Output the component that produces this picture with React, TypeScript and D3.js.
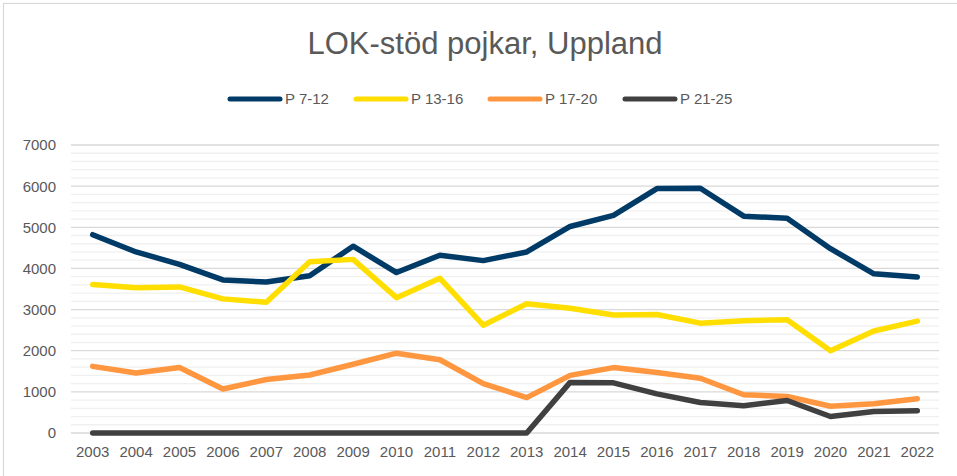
import { useEffect, useRef } from "react"
import * as d3 from "d3"

const years = [
    "2003", "2004", "2005", "2006", "2007", "2008", "2009", "2010", "2011", "2012",
    "2013", "2014", "2015", "2016", "2017", "2018", "2019", "2020", "2021", "2022",
]

const p7_12 = [4820, 4400, 4100, 3720, 3670, 3820, 4540, 3900, 4320, 4190, 4400, 5020, 5290, 5940, 5950, 5270, 5220, 4480, 3870, 3790]
const p13_16 = [3610, 3530, 3550, 3260, 3180, 4160, 4220, 3290, 3760, 2620, 3140, 3030, 2870, 2880, 2670, 2730, 2750, 2000, 2480, 2720]
const p17_20 = [1620, 1460, 1590, 1070, 1300, 1410, 1670, 1940, 1780, 1200, 860, 1400, 1590, 1470, 1330, 930, 890, 650, 710, 830]
const p21_25 = [0, 0, 0, 0, 0, 0, 0, 0, 0, 0, 0, 1230, 1220, 950, 740, 660, 790, 400, 520, 540]

const seriesNames = ["P 7-12", "P 13-16", "P 17-20", "P 21-25"]
const seriesValues = [p7_12, p13_16, p17_20, p21_25]
const seriesColors = ["#003a66", "#ffde00", "#ff9640", "#404040"]

const yMajorTicks = [0, 1000, 2000, 3000, 4000, 5000, 6000, 7000]

export default function App() {
    const ref = useRef<SVGSVGElement | null>(null)

    useEffect(() => {
        const host = ref.current
        if (!host) return

        const width = 957
        const height = 476
        const margin = { top: 145, right: 18, bottom: 43, left: 71 }

        const svg = d3.select(host)
        svg.selectAll("*").remove()

        const font = "'Liberation Sans', Arial, sans-serif"
        const textColor = "#595959"

        svg.append("rect")
            .attr("x", 0)
            .attr("y", 0)
            .attr("width", width)
            .attr("height", height)
            .attr("fill", "#fff")

        svg.append("rect")
            .attr("x", 3.5)
            .attr("y", 3.5)
            .attr("width", 1000)
            .attr("height", 1000)
            .attr("fill", "none")
            .attr("stroke", "#d9d9d9")
            .attr("stroke-width", 1.2)

        svg.append("text")
            .attr("x", 485)
            .attr("y", 54)
            .attr("text-anchor", "middle")
            .attr("font-family", font)
            .attr("font-size", 31)
            .attr("fill", textColor)
            .text("LOK-stöd pojkar, Uppland")

        const x = d3.scalePoint()
            .domain(years)
            .range([margin.left, width - margin.right - 0])
            .padding(0.5)

        const y = d3.scaleLinear()
            .domain([0, 7000])
            .range([height - margin.bottom, margin.top])

        // minor grid every 200
        const minor = d3.range(200, 7000, 200).filter(v => v % 1000 !== 0)
        svg.append("g")
            .selectAll("line")
            .data(minor)
            .join("line")
            .attr("x1", margin.left)
            .attr("x2", width - margin.right)
            .attr("y1", d => y(d))
            .attr("y2", d => y(d))
            .attr("stroke", "#f0f0f0")
            .attr("stroke-width", 1.3)

        svg.append("g")
            .selectAll("line")
            .data(yMajorTicks)
            .join("line")
            .attr("x1", margin.left)
            .attr("x2", width - margin.right)
            .attr("y1", d => y(d))
            .attr("y2", d => y(d))
            .attr("stroke", "#d9d9d9")
            .attr("stroke-width", 1.3)

        svg.append("g")
            .selectAll("text")
            .data(yMajorTicks)
            .join("text")
            .attr("x", margin.left - 15)
            .attr("y", d => y(d))
            .attr("dy", "0.36em")
            .attr("text-anchor", "end")
            .attr("font-family", font)
            .attr("font-size", 15)
            .attr("fill", textColor)
            .text(d => String(d))

        svg.append("g")
            .selectAll("text")
            .data(years)
            .join("text")
            .attr("x", d => x(d) ?? 0)
            .attr("y", 457)
            .attr("text-anchor", "middle")
            .attr("font-family", font)
            .attr("font-size", 15)
            .attr("fill", textColor)
            .text(d => d)

        const line = d3.line<number>()
            .x((_, i) => x(years[i]) ?? 0)
            .y(d => y(d))

        svg.append("g")
            .selectAll("path")
            .data(seriesValues)
            .join("path")
            .attr("d", d => line(d))
            .attr("fill", "none")
            .attr("stroke", (_, i) => seriesColors[i])
            .attr("stroke-width", 5.5)
            .attr("stroke-linejoin", "round")
            .attr("stroke-linecap", "round")

        // legend
        const legendStarts = [228, 354, 488, 623]
        const legend = svg.append("g")
            .selectAll("g")
            .data(seriesNames)
            .join("g")
            .attr("transform", (_, i) => `translate(${legendStarts[i]},99)`)

        legend.append("line")
            .attr("x1", 2)
            .attr("x2", 52)
            .attr("y1", 0)
            .attr("y2", 0)
            .attr("stroke", (_, i) => seriesColors[i])
            .attr("stroke-width", 5)
            .attr("stroke-linecap", "round")

        legend.append("text")
            .attr("x", 57)
            .attr("y", 0)
            .attr("dy", "0.36em")
            .attr("font-family", font)
            .attr("font-size", 15)
            .attr("fill", textColor)
            .text(d => d)
    }, [])

    return (
        <div style={{ position: "absolute", left: 0, top: 0 }}>
            <svg ref={ref} width={957} height={476} style={{ display: "block" }} />
        </div>
    )
}
